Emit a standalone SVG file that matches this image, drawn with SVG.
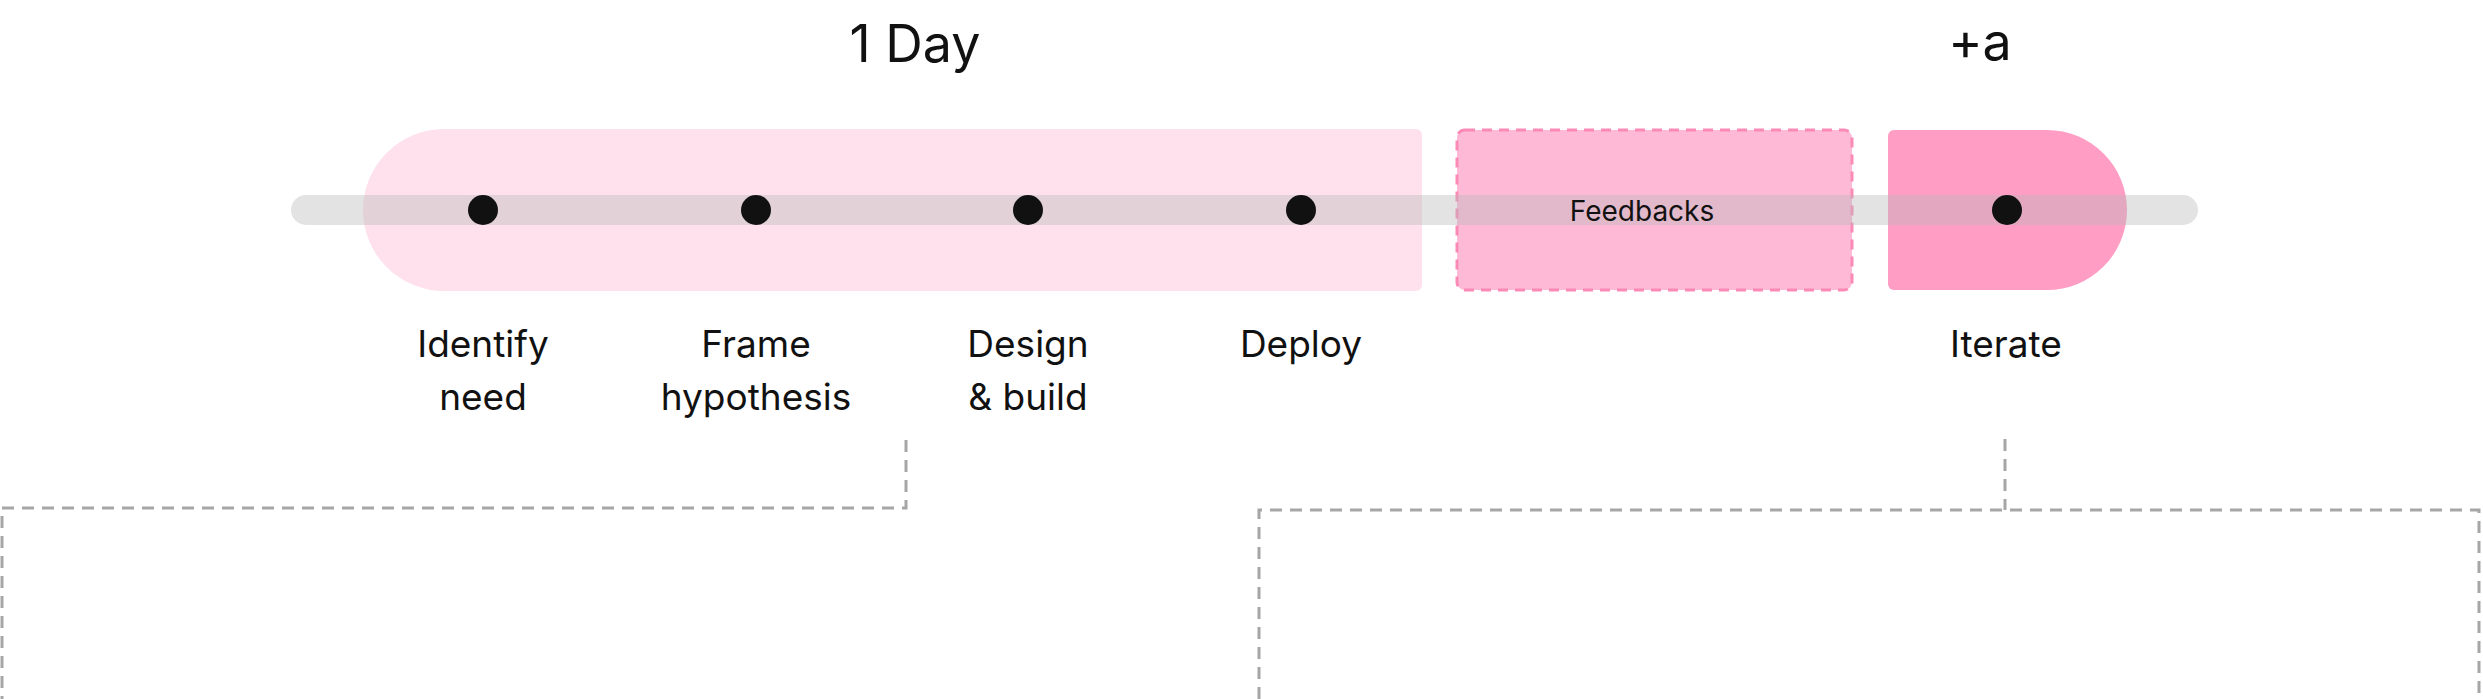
<svg xmlns="http://www.w3.org/2000/svg" width="2483" height="699" viewBox="0 0 2483 699">
<style>
.t{font-family:Inter,"Noto Sans","Liberation Sans",sans-serif;fill:#111;text-anchor:middle}
.lbl{font-size:37px}
.dot{fill:#111}
.con{fill:none;stroke:#a6a6a6;stroke-width:3;stroke-dasharray:12 8}
</style>
<rect width="2483" height="699" fill="#fff"/>
<g id="phase-day"><path d="M444,129 H1416 a6,6 0 0 1 6,6 V285 a6,6 0 0 1 -6,6 H444 a81,81 0 0 1 0,-162 Z" fill="#fee1ec"/></g>
<g id="feedbacks"><rect x="1457" y="130" width="395" height="160" rx="8" fill="#fdb9d5" stroke="#fb8ab7" stroke-width="3" stroke-dasharray="10 7"/></g>
<g id="phase-iterate"><path d="M1894,130 H2047 a80,80 0 0 1 0,160 H1894 a6,6 0 0 1 -6,-6 V136 a6,6 0 0 1 6,-6 Z" fill="#ff9dc4"/></g>
<rect id="track" x="291" y="195" width="1907" height="30" rx="15" fill="#b8b8b8" opacity="0.4"/>
<text class="t" x="1642" y="221" font-size="28">Feedbacks</text>
<g id="n1"><circle class="dot" cx="483" cy="210" r="15"/><text class="t lbl" x="483" y="357">Identify</text><text class="t lbl" x="483" y="410">need</text></g>
<g id="n2"><circle class="dot" cx="756" cy="210" r="15"/><text class="t lbl" x="756" y="357">Frame</text><text class="t lbl" x="756" y="410">hypothesis</text></g>
<g id="n3"><circle class="dot" cx="1028" cy="210" r="15"/><text class="t lbl" x="1028" y="357">Design</text><text class="t lbl" x="1028" y="410">&amp; build</text></g>
<g id="n4"><circle class="dot" cx="1301" cy="210" r="15"/><text class="t lbl" x="1301" y="357">Deploy</text></g>
<g id="n5"><circle class="dot" cx="2007" cy="210" r="15"/><text class="t lbl" x="2006" y="357">Iterate</text></g>
<text class="t" x="915" y="62" font-size="52">1 Day</text>
<text class="t" x="1980" y="60" font-size="52">+a</text>
<g id="connectors">
<path class="con" d="M906,440 V508 H2 V699"/>
<path class="con" d="M2005,439 V510"/>
<path class="con" d="M1259,699 V510 H2479 V699"/>
</g>
</svg>
